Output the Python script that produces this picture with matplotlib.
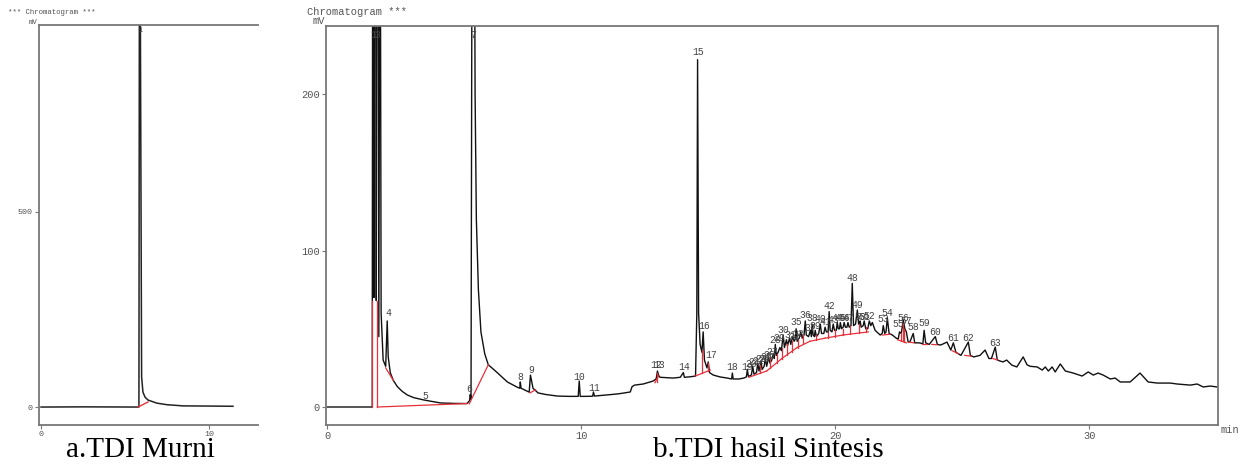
import numpy as np
import matplotlib.pyplot as plt

# ---------------- data ----------------
# a. TDI Murni : retention time (min) / signal (mV)
murni_t = [0.0, 2.5, 5.83, 5.86, 5.90, 5.99, 6.07, 6.2, 6.37, 6.9, 7.5, 8.45, 10.0, 11.43]
murni_mv = [0.0, 0.5, 0.0, 1200, 1200, 77, 38, 25, 18, 10, 6, 3, 2.5, 2.0]
murni_red = [(5.78, 0.0, 6.37, 13.0)]
murni_labels = [("1", 5.95, 965)]

# b. TDI hasil Sintesis
sint_t = [
    0.0, 1.75, 1.77, 1.79, 1.81, 1.84, 1.87, 1.90, 1.93, 1.96, 1.99, 2.03, 2.08, 2.12, 2.2, 2.3,
    2.36, 2.40, 2.48, 2.6, 2.76, 2.95, 3.15, 3.4, 3.8, 4.45, 5.0, 5.5,
    5.6, 5.63, 5.66, 5.71, 5.78, 5.82, 5.87, 5.95, 6.05, 6.2, 6.34, 6.69, 7.09, 7.5, 7.58,
    7.6, 7.63,
    7.95, 8.0, 8.1, 8.3, 8.6, 9.06, 9.5, 9.88, 9.92, 9.96, 10.2, 10.45, 10.48, 10.52,
    11.02, 11.2, 11.5, 11.93, 12.0, 12.1, 12.44, 12.83, 12.95, 13.0, 13.05, 13.1, 13.62,
    13.9, 14.02, 14.06, 14.29, 14.5, 14.55, 14.58, 14.62, 14.68, 14.75, 14.8, 14.85, 14.95,
    15.0, 15.05, 15.2, 15.47, 15.75, 15.92, 15.95, 15.98, 16.2, 16.4, 16.5, 16.54, 16.58,
    16.7, 16.75, 16.8, 16.9, 16.95, 17.0, 17.08, 17.12, 17.2, 17.25, 17.3, 17.38, 17.43,
    17.5, 17.56, 17.6, 17.64, 17.68, 17.75, 17.82, 17.88, 17.95, 18.0, 18.08, 18.12, 18.2,
    18.25, 18.32, 18.38, 18.42, 18.46, 18.5, 18.58, 18.64, 18.7, 18.77, 18.82, 18.86,
    18.95, 19.02, 19.06, 19.09, 19.13, 19.18, 19.21, 19.26, 19.35, 19.41, 19.46, 19.55,
    19.6, 19.65, 19.72, 19.76, 19.8, 19.87, 19.92, 19.97, 20.04, 20.08, 20.12, 20.17,
    20.2, 20.25, 20.31, 20.35, 20.4, 20.46, 20.5, 20.55, 20.62, 20.67, 20.72, 20.8,
    20.87, 20.92, 20.96, 20.98, 21.02, 21.1, 21.14, 21.2, 21.28, 21.34, 21.4, 21.46,
    21.57, 21.77, 21.85, 21.89, 21.95, 22.0, 22.05, 22.12, 22.25, 22.4, 22.48, 22.53,
    22.6, 22.68, 22.74, 22.8, 22.87, 22.95, 23.07, 23.13, 23.3, 23.45, 23.5, 23.56, 23.7,
    23.94, 24.02, 24.15, 24.4, 24.55, 24.65, 24.75, 24.95, 25.24, 25.32, 25.45, 25.7,
    25.9, 26.05, 26.15, 26.3, 26.38, 26.6, 26.75, 26.95, 27.15, 27.4, 27.55, 27.68,
    27.95, 28.15, 28.27, 28.39, 28.54, 28.66, 28.86, 29.06, 29.37, 29.72, 29.96, 30.16,
    30.35, 30.55, 30.83, 31.02, 31.22, 31.61, 32.0, 32.32, 32.68, 33.19, 33.46, 33.98,
    34.25, 34.49, 34.76, 35.04,
]
sint_mv = [
    0.0, 0.0, 0.0, 400, 400, 70, 400, 400, 68, 400, 400, 45, 400, 60, 30, 26,
    55, 32, 22, 17, 13, 10, 7.7, 6.0, 4.5, 2.6, 2.3, 2.2,
    4.0, 8.0, 5.0, 400, 400, 200, 120, 75, 48, 34, 27, 22, 16, 12.5, 12,
    16, 12,
    9.5, 20.4, 12, 9, 8, 7, 6.8, 6.8, 16.6, 6.8, 6.8, 6.9, 9.6, 7.0,
    7.7, 8.0, 8.5, 9.6, 13, 14, 14.7, 16.6, 18, 23, 20, 19, 18.5,
    19, 22, 19, 19.3, 19.8, 60, 222, 60, 40, 35, 48, 30, 25,
    28.8, 22, 20.4, 19.2, 18.5, 17.9, 21.7, 17.9, 17.9, 18.5, 19.2, 24, 19.5,
    20.5, 26, 21, 22, 28, 23, 29, 24, 26, 31, 26, 32, 28,
    30, 34, 31, 40, 33, 35, 38, 36, 46, 38, 43, 39, 44,
    40, 45, 42, 43, 50, 42, 44, 48, 44, 46, 55, 46,
    45, 49, 45, 53, 46, 45, 49, 45, 47, 53, 47, 47,
    51, 48, 48, 61, 49, 48, 53, 49, 49, 54, 50, 50,
    54, 50, 51, 54, 51, 51, 54, 51, 52, 79, 52, 53,
    62, 53, 53, 55, 51, 52, 55, 50, 50, 55, 52, 54,
    49, 46, 47, 52, 47, 48, 57, 47, 46, 44, 43.5, 48,
    47, 55.6, 50, 48, 41.5, 42, 47, 41, 41, 40.5, 49, 41, 40,
    45, 40, 39.6, 41.5, 36.4, 41, 35, 33, 41.5, 33, 32, 33,
    36.4, 31, 31, 38.3, 30, 28.8, 30, 26.8, 25.6, 32, 27, 26,
    25.6, 23.6, 25.6, 23, 25.6, 22.4, 27.5, 23, 21.7, 19.8, 22.4, 20.4,
    21.7, 20.4, 17.9, 18.5, 16, 16, 21.7, 16, 15.3, 15.3, 14.7, 14,
    14.7, 12.8, 13.4, 12.8,
]

# red integration baselines (t0, mV0, t1, mV1)
sint_red = [
    (1.77, 0, 1.77, 68), (1.97, 0, 1.97, 68), (1.97, 0, 5.5, 2.2),
    (2.3, 25, 2.6, 17), (5.59, 2, 6.34, 27), (7.98, 9, 8.2, 11),
    (12.9, 15.5, 13.05, 20), (13.0, 16, 13.0, 22),
    (14.49, 19.8, 15.08, 23.6), (14.76, 21.7, 14.76, 36.4), (15.0, 23, 15.0, 28),
    (16.6, 19, 17.3, 23), (17.3, 23, 17.9, 31), (17.9, 31, 18.5, 38),
    (18.5, 38, 19.0, 42), (19.0, 42, 19.6, 44), (19.6, 44, 20.3, 46),
    (20.3, 46, 21.3, 48),
    (17.05, 22, 17.05, 27), (17.45, 25, 17.45, 32), (17.7, 28, 17.7, 34),
    (17.9, 31, 17.9, 38), (18.1, 33, 18.1, 40), (18.3, 35, 18.3, 42),
    (18.55, 38, 18.55, 43), (18.75, 40, 18.75, 46), (19.25, 43, 19.25, 46),
    (19.7, 44, 19.7, 48), (20.0, 45, 20.0, 49), (20.3, 46, 20.3, 50),
    (20.6, 46.5, 20.6, 52), (20.95, 47.5, 20.95, 53), (21.2, 48, 21.2, 51),
    (21.85, 46, 22.15, 46.5), (22.45, 43, 22.8, 41), (22.58, 42.5, 22.58, 47),
    (22.67, 42, 22.67, 54), (22.72, 41.5, 22.72, 50),
    (22.9, 41.5, 23.1, 41), (23.4, 40.5, 23.6, 40.5), (23.8, 40, 24.0, 39.8),
    (24.6, 36, 24.85, 34), (25.1, 33, 25.35, 32.5), (26.2, 31, 26.4, 30),
]

sint_labels = [
    ("1", 1.80, 238), ("3", 1.98, 238), ("7", 5.75, 238),
    ("4", 2.4, 60), ("5", 3.85, 7), ("6", 5.6, 11.5), ("8", 7.6, 19), ("9", 8.02, 23.6),
    ("10", 9.9, 19), ("11", 10.5, 12), ("12", 12.95, 27), ("13", 13.05, 27),
    ("14", 14.05, 25.6), ("15", 14.6, 227), ("16", 14.82, 52), ("17", 15.1, 33),
    ("18", 15.95, 25.6), ("19", 16.54, 25.6), ("20", 16.7, 27.5), ("21", 16.82, 28.5),
    ("22", 16.95, 29.5), ("23", 17.08, 30.5), ("24", 17.2, 31), ("25", 17.3, 32),
    ("26", 17.4, 33), ("27", 17.5, 35), ("28", 17.64, 42.8), ("29", 17.8, 44),
    ("30", 17.95, 49.2), ("31", 18.23, 46), ("32", 18.39, 44.7), ("33", 18.54, 46.6),
    ("35", 18.46, 54.3), ("36", 18.82, 58.8), ("37", 19.02, 50.5), ("38", 19.09, 56.9),
    ("39", 19.21, 51.8), ("40", 19.41, 56.2), ("41", 19.6, 54.3), ("42", 19.76, 64.5),
    ("43", 19.92, 55.6), ("44", 20.08, 56.9), ("45", 20.2, 56.9), ("46", 20.35, 56.9),
    ("47", 20.5, 56.9), ("48", 20.67, 82.4), ("49", 20.87, 65.2), ("50", 20.98, 57.5),
    ("51", 21.14, 57.5), ("52", 21.34, 58.1), ("53", 21.89, 56.2), ("54", 22.05, 60),
    ("55", 22.48, 53), ("56", 22.68, 56.9), ("57", 22.8, 55), ("58", 23.07, 51),
    ("59", 23.5, 53.7), ("60", 23.94, 47.9), ("61", 24.65, 44), ("62", 25.24, 44),
    ("63", 26.3, 40.9),
]

captions = ["a.TDI Murni", "b.TDI hasil Sintesis"]

# ---------------- drawing ----------------
mono = "Liberation Mono"
grey = "#555555"
red = "#e8303a"

fig = plt.figure(figsize=(12.38, 4.75), dpi=100)
ax_a = fig.add_axes([39 / 1238, 1 - 425 / 475, 219 / 1238, 400 / 475])
ax_b = fig.add_axes([326 / 1238, 1 - 425 / 475, 892 / 1238, 399 / 475])


def style_axes(ax, size):
    for side in ["left", "bottom", "top", "right"]:
        ax.spines[side].set_color("#777777")
        ax.spines[side].set_linewidth(1.3)
    ax.tick_params(direction="out", length=3, width=0.8, color="#777777",
                   labelsize=size, labelcolor=grey, pad=1.5)
    for lab in ax.get_xticklabels() + ax.get_yticklabels():
        lab.set_fontfamily(mono)


# panel a
ax_a.plot(murni_t, murni_mv, color="#222222", lw=1.1)
for t0, y0, t1, y1 in murni_red:
    ax_a.plot([t0, t1], [y0, y1], color=red, lw=1.0)
for txt, t, y in murni_labels:
    ax_a.text(t, y, txt, fontsize=5, family=mono, color=grey, ha="center", va="center")
ax_a.set_xlim(-0.12, 12.92)
ax_a.set_ylim(-46, 979)
ax_a.set_xticks([0, 10])
ax_a.set_yticks([0, 500])
style_axes(ax_a, 6)
ax_a.spines["right"].set_visible(False)

# panel b
ax_b.plot(sint_t, sint_mv, color="#111111", lw=1.0)
for t0, y0, t1, y1 in sint_red:
    ax_b.plot([t0, t1], [y0, y1], color=red, lw=0.9)
for txt, t, y in sint_labels:
    ax_b.text(t, y, txt, fontsize=7, family=mono, color="#444444", ha="center", va="center")
ax_b.set_xlim(-0.05, 35.07)
ax_b.set_ylim(-11.5, 243.5)
ax_b.set_xticks([0, 10, 20, 30])
ax_b.set_yticks([0, 100, 200])
style_axes(ax_b, 7.5)

# header texts
fig.text(8 / 1238, 1 - 13 / 475, "*** Chromatogram ***", fontsize=5.3, family=mono,
         color=grey, va="center")
fig.text(29 / 1238, 1 - 22 / 475, "mV", fontsize=5.3, family=mono, color=grey, va="center")
fig.text(307 / 1238, 1 - 12 / 475, "Chromatogram ***", fontsize=7.5, family=mono,
         color=grey, va="center")
fig.text(313 / 1238, 1 - 21 / 475, "mV", fontsize=7.5, family=mono, color=grey, va="center")
fig.text(1221 / 1238, 1 - 430 / 475, "min", fontsize=7.5, family=mono, color=grey, va="center")

# captions
fig.text(140 / 1238, 1 - 450 / 475, captions[0], fontsize=21, family="Liberation Serif",
         ha="center", va="center")
fig.text(768 / 1238, 1 - 450 / 475, captions[1], fontsize=21, family="Liberation Serif",
         ha="center", va="center")

fig.savefig("out.png", dpi=100)
